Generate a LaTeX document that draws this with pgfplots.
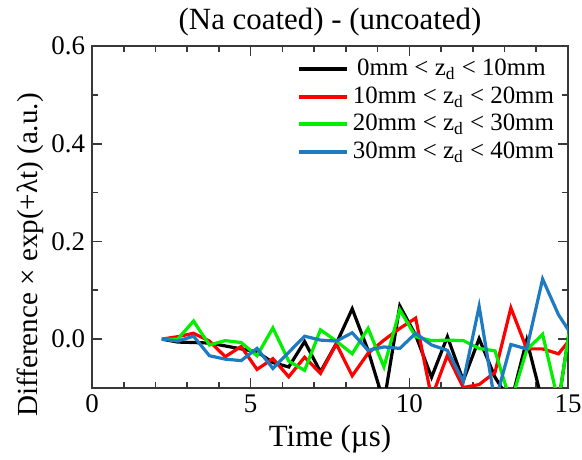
\documentclass[border=0pt]{standalone}
\usepackage{fontspec}
\setmainfont{Liberation Serif}
\usepackage{pgfplots}
\usepackage{pgfplotstable}
\pgfplotsset{compat=1.18}
\definecolor{cblue}{HTML}{1F7BC1}
\definecolor{cgreen}{HTML}{00F000}

% time (us), one column per z_d slice
\pgfplotstableread{
t     a       b       c       d
2.2   0.000   0.000   0.000   0.000
2.7  -0.006   0.005   0.000  -0.004
3.2  -0.007   0.012   0.037   0.006
3.7  -0.008  -0.004  -0.012  -0.034
4.2  -0.014  -0.036  -0.003  -0.041
4.7  -0.020  -0.015  -0.007  -0.044
5.2  -0.026  -0.062  -0.034  -0.019
5.7  -0.048  -0.040   0.023  -0.060
6.2  -0.057  -0.077  -0.045  -0.027
6.7  -0.005  -0.037  -0.064   0.006
7.2  -0.067  -0.070   0.019  -0.002
7.7  -0.009  -0.010  -0.004  -0.004
8.2   0.062  -0.075  -0.030   0.013
8.7  -0.023  -0.029   0.022  -0.023
9.2  -0.130  -0.002  -0.057  -0.016
9.7   0.068   0.022   0.060  -0.019
10.2  0.008   0.043   0.005   0.012
10.7 -0.078  -0.120  -0.003  -0.012
11.2  0.005  -0.033  -0.002  -0.023
11.7 -0.085  -0.099  -0.003  -0.087
12.2  0.001  -0.093  -0.019   0.067
12.7 -0.078  -0.068  -0.024  -0.130
13.2 -0.130   0.064  -0.130  -0.011
13.7 -0.002  -0.020  -0.022  -0.020
14.2 -0.130  -0.020   0.010   0.123
14.7 -0.130  -0.030  -0.130   0.050
15.2  0.085   0.010   0.085   0.000
}\slices

\begin{document}
\begin{tikzpicture}
\begin{axis}[
  width=238bp, height=171bp, scale only axis,
  xmin=0, xmax=15, ymin=-0.1, ymax=0.6,
  xtick={0,5,10,15}, ytick={0,0.2,0.4,0.6},
  minor x tick num=4, minor y tick num=1,
  tick align=inside, ticks=both,
  major tick length=5bp, minor tick length=3bp,
  axis line style={line width=1bp, black!78},
  every tick/.style={line width=0.8bp, black!78},
  yticklabel style={/pgf/number format/fixed, /pgf/number format/fixed zerofill, /pgf/number format/precision=1},
  /pgf/number format/assume math mode=true,
  tick label style={font=\rmfamily\fontsize{13.5}{15}\selectfont},
  xlabel={Time (µs)},
  xlabel style={font=\rmfamily\fontsize{15.5}{17}\selectfont, at={(axis description cs:0.5,-0.15)}, anchor=center},
  ylabel={Difference × exp(+λt) (a.u.)},
  ylabel style={font=\rmfamily\fontsize{14.6}{17}\selectfont, at={(axis description cs:-0.13,0.389)}, anchor=center},
  legend style={draw=none, fill=none, at={(axis description cs:0.984,0.98)}, anchor=north east,
    font=\rmfamily\fontsize{12.5}{13}\selectfont, row sep=0bp, inner sep=1bp},
  legend cell align=left,
  legend image code/.code={\draw[#1, line width=2bp] (0bp,0bp) -- (24bp,0bp);},
  every axis plot/.append style={line width=1.6bp},
]
\coordinate (sw) at (rel axis cs:0,0);
\coordinate (ne) at (rel axis cs:1,1);
\coordinate (tc) at (rel axis cs:0.5,1);
\addplot[black] table[x=t, y=a] {\slices};
\addplot[red] table[x=t, y=b] {\slices};
\addplot[cgreen] table[x=t, y=c] {\slices};
\addplot[cblue] table[x=t, y=d] {\slices};
\legend{\,0mm < z\textsubscript{d} < 10mm, 10mm < z\textsubscript{d} < 20mm, 20mm < z\textsubscript{d} < 30mm, 30mm < z\textsubscript{d} < 40mm}
\end{axis}
\node[font=\rmfamily\fontsize{15.5}{17}\selectfont, anchor=base, inner sep=0pt]
  at ([yshift=8bp]tc) {(Na coated) - (uncoated)};
\pgfresetboundingbox
\path ([shift={(-46bp,-36bp)}]sw) rectangle ([shift={(7bp,23bp)}]ne);
\end{tikzpicture}
\end{document}
